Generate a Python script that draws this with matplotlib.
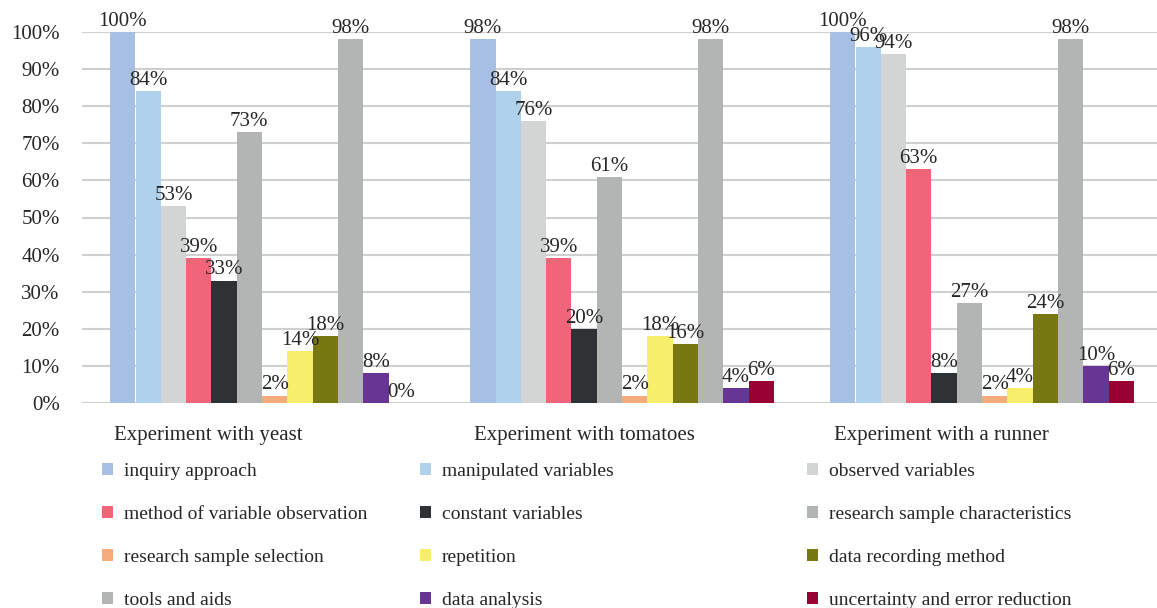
import matplotlib.pyplot as plt
import numpy as np

plt.rcParams['font.family'] = ['Liberation Serif', 'DejaVu Serif']

groups = ['Experiment with yeast', 'Experiment with tomatoes', 'Experiment with a runner']
series = ['inquiry approach', 'manipulated variables', 'observed variables',
          'method of variable observation', 'constant variables', 'research sample characteristics',
          'research sample selection', 'repetition', 'data recording method',
          'tools and aids', 'data analysis', 'uncertainty and error reduction']
colors = ['#A6BFE2', '#AFD1EC', '#D3D4D4',
          '#F0657A', '#2E3235', '#B3B5B5',
          '#F6AB7D', '#F7EF6C', '#787813',
          '#B3B5B5', '#673695', '#990033']

# percent values, one list per series (yeast, tomatoes, runner)
inquiry = [100, 98, 100]
manipulated = [84, 84, 96]
observed = [53, 76, 94]
method_obs = [39, 39, 63]
constant = [33, 20, 8]
sample_char = [73, 61, 27]
sample_sel = [2, 2, 2]
repetition = [14, 18, 4]
recording = [18, 16, 24]
tools = [98, 98, 98]
analysis = [8, 4, 10]
uncertainty = [0, 6, 6]
values = [inquiry, manipulated, observed, method_obs, constant, sample_char,
          sample_sel, repetition, recording, tools, analysis, uncertainty]

W, H = 1157, 608
fig = plt.figure(figsize=(W / 100, H / 100), dpi=100)
ax = fig.add_axes([82 / W, (H - 403) / H, 1075 / W, 371 / H])

x = np.arange(len(groups))
bw = 25.3 / 360
n = len(series)
text_col = '#262626'
fs = 15

handles = []
for i, (name, vals, c) in enumerate(zip(series, values, colors)):
    pos = x - n * bw / 2 + (i + 0.5) * bw
    b = ax.bar(pos, vals, bw, color=c, label=name, zorder=2)
    handles.append(b)
    for p, v in zip(pos, vals):
        ax.text(p, v + 0.3, f'{v}%', ha='center', va='bottom', fontsize=fs,
                color=text_col, clip_on=False, zorder=3)

ax.set_xlim(-0.5, 2.5 - 5 / 360)
ax.set_ylim(0, 100)
ax.set_yticks(np.arange(0, 101, 10))
ax.set_yticklabels([f'{t}%' for t in range(0, 101, 10)], fontsize=fs, color=text_col)
ax.tick_params(axis='y', length=0, pad=16)
ax.set_xticks([])
ax.grid(axis='y', color='#D0D0D0', linewidth=1.5, zorder=0)
for s in ax.spines.values():
    s.set_visible(False)

for xi, g in zip(x, groups):
    ax.text(xi - n * bw / 2 + 0.01, -8.7, g, ha='left', va='center', fontsize=fs,
            color=text_col, clip_on=False)

col_x = [102, 420, 807]
for c in range(3):
    hs = [handles[c + 3 * r] for r in range(4)]
    ls = [series[c + 3 * r] for r in range(4)]
    fig.legend(hs, ls, loc='upper left', bbox_to_anchor=(col_x[c] / W, 1 - 463 / H),
               frameon=False, fontsize=14, handlelength=0.58, handleheight=0.58,
               handletextpad=0.55, labelspacing=1.34, borderpad=0, borderaxespad=0,
               labelcolor=text_col)

fig.savefig('out.png', dpi=100)
